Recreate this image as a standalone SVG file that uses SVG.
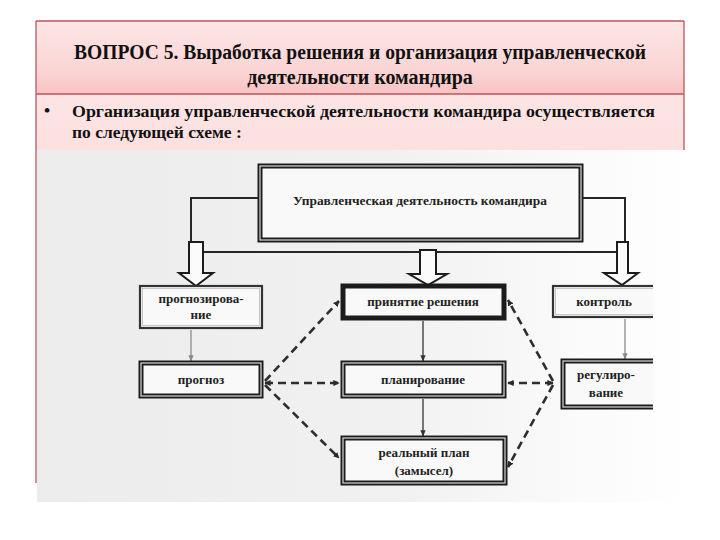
<svg xmlns="http://www.w3.org/2000/svg" width="720" height="540" viewBox="0 0 720 540">
  <defs>
    <linearGradient id="titleGrad" x1="0" y1="0" x2="0" y2="1">
      <stop offset="0" stop-color="#fde6e6"/>
      <stop offset="0.7" stop-color="#fbd4d4"/>
      <stop offset="1" stop-color="#f7c2c2"/>
    </linearGradient>
    <linearGradient id="bulletGrad" x1="0" y1="0" x2="0" y2="1">
      <stop offset="0" stop-color="#fde4e4"/>
      <stop offset="1" stop-color="#fde0e0"/>
    </linearGradient>
    <linearGradient id="scanGrad" x1="0" y1="0" x2="1" y2="0">
      <stop offset="0" stop-color="#ececec"/>
      <stop offset="0.55" stop-color="#f1f1f1"/>
      <stop offset="0.85" stop-color="#fbfbfb"/>
      <stop offset="1" stop-color="#ffffff"/>
    </linearGradient>
    <clipPath id="scanClip">
      <rect x="37" y="150" width="616" height="352"/>
    </clipPath>
    <marker id="tri" viewBox="0 0 10 10" refX="9" refY="5" markerWidth="2.4" markerHeight="2.4" orient="auto-start-reverse">
      <path d="M0,0 L10,5 L0,10 Z" fill="#2a2a2a"/>
    </marker>
    <marker id="thinDark" viewBox="0 0 10 10" refX="9" refY="5" markerWidth="5" markerHeight="5" orient="auto">
      <path d="M0,1 L10,5 L0,9 Z" fill="#333"/>
    </marker>
    <marker id="thinGray" viewBox="0 0 10 10" refX="9" refY="5" markerWidth="5" markerHeight="5" orient="auto">
      <path d="M0,1 L10,5 L0,9 Z" fill="#8a8a8a"/>
    </marker>
  </defs>
  <style>
    .frame { stroke: #b9575a; stroke-width: 1.3; }
    .title { font-family: "Liberation Serif", "Times New Roman", serif; font-weight: bold; font-size: 20px; fill: #111; }
    .bullet { font-family: "Liberation Serif", "Times New Roman", serif; font-weight: bold; font-size: 17.5px; fill: #111; }
    .lbl { font-family: "Liberation Serif", "Times New Roman", serif; font-weight: bold; font-size: 13px; fill: #222; text-anchor: middle; }
    .boxOuter { fill: #f9f9f9; stroke: #1c1c1c; stroke-width: 5; }
    .boxInner { fill: none; stroke: #d8d8d8; stroke-width: 1.2; }
    .boxThin { fill: #f9f9f9; stroke: #333; stroke-width: 2.2; }
    .boxThinInner { fill: none; stroke: #bbb; stroke-width: 0.8; }
    .block { fill: #fbfbfb; stroke: #1c1c1c; stroke-width: 2; stroke-linejoin: miter; }
    .link { fill: none; stroke: #262626; stroke-width: 2; }
    .dash { fill: none; stroke: #2e2e2e; stroke-width: 2.6; stroke-dasharray: 8 5; }
  </style>

  <rect width="720" height="540" fill="#ffffff"/>

  <!-- slide frame -->
  <g id="slide-header">
    <rect x="36" y="21" width="648" height="73" fill="url(#titleGrad)"/>
    <rect x="36" y="94" width="648" height="56" fill="url(#bulletGrad)"/>
    <line class="frame" x1="36" y1="21" x2="684" y2="21"/>
    <line class="frame" x1="36" y1="94" x2="684" y2="94"/>
    <line class="frame" x1="684" y1="21" x2="684" y2="150"/>
    <line class="frame" x1="36" y1="21" x2="36" y2="483"/>
    <text class="title" x="360" y="59" text-anchor="middle" textLength="572" lengthAdjust="spacingAndGlyphs">ВОПРОС 5. Выработка решения и организация управленческой</text>
    <text class="title" x="360" y="84" text-anchor="middle">деятельности командира</text>
    <text class="bullet" x="44" y="116">•</text>
    <text class="bullet" x="72" y="117" textLength="583" lengthAdjust="spacingAndGlyphs">Организация управленческой деятельности командира осуществляется</text>
    <text class="bullet" x="72" y="138">по следующей схеме :</text>
  </g>

  <!-- scanned scheme background -->
  <rect x="37" y="150" width="653" height="352" fill="url(#scanGrad)"/>

  <g clip-path="url(#scanClip)">
    <g id="connectors">
      <polyline class="link" points="258,198 191,198 191,242"/>
      <polyline class="link" points="583,198 625,198 625,242"/>
      <line class="link" x1="203" y1="252" x2="617" y2="252"/>
      <path class="block" d="M189,242 L203,242 L203,273 L213,273 L196,286 L179,273 L189,273 Z"/>
      <path class="block" d="M420,250 L436,250 L436,274 L447,274 L428,285 L409,274 L420,274 Z"/>
      <path class="block" d="M617,242 L628,242 L628,273 L638,273 L622,285 L604,273 L617,273 Z"/>
      <line x1="191" y1="330" x2="191" y2="361" stroke="#8a8a8a" stroke-width="1.3" marker-end="url(#thinGray)"/>
      <line x1="423" y1="321" x2="423" y2="361" stroke="#333" stroke-width="1.3" marker-end="url(#thinDark)"/>
      <line x1="423" y1="399" x2="423" y2="436" stroke="#333" stroke-width="1.3" marker-end="url(#thinDark)"/>
      <line x1="625" y1="319" x2="625" y2="359" stroke="#8a8a8a" stroke-width="1.3" marker-end="url(#thinGray)"/>
      <line class="dash" x1="265" y1="381" x2="339" y2="301" marker-end="url(#tri)"/>
      <line class="dash" x1="265" y1="383" x2="339" y2="383" marker-start="url(#tri)" marker-end="url(#tri)"/>
      <line class="dash" x1="265" y1="385" x2="339" y2="458" marker-end="url(#tri)"/>
      <line class="dash" x1="553" y1="381" x2="508" y2="300" marker-end="url(#tri)"/>
      <line class="dash" x1="553" y1="383" x2="508" y2="383" marker-start="url(#tri)" marker-end="url(#tri)"/>
      <line class="dash" x1="553" y1="385" x2="508" y2="467" marker-end="url(#tri)"/>
    </g>

    <g id="node-top">
      <rect class="boxOuter" x="260" y="166" width="321" height="74"/>
      <rect class="boxInner" x="260" y="166" width="321" height="74"/>
      <text class="lbl" x="420" y="205" textLength="254" lengthAdjust="spacingAndGlyphs">Управленческая деятельность командира</text>
    </g>

    <g id="node-prognozirovanie">
      <rect class="boxThin" x="140" y="286" width="122" height="42"/>
      <rect class="boxThinInner" x="142.5" y="288.5" width="117" height="37"/>
      <text class="lbl" x="201" y="303">прогнозирова-</text>
      <text class="lbl" x="201" y="319">ние</text>
    </g>

    <g id="node-prinyatie">
      <rect class="boxOuter" x="343" y="286" width="161" height="32" stroke-width="4"/>
      <text class="lbl" x="423" y="306">принятие решения</text>
    </g>

    <g id="node-kontrol">
      <rect class="boxThin" x="553" y="286" width="110" height="31"/>
      <rect class="boxThinInner" x="555.5" y="288.5" width="105" height="26"/>
      <text class="lbl" x="604" y="306">контроль</text>
    </g>

    <g id="node-prognoz">
      <rect class="boxOuter" x="141" y="363" width="120" height="33"/>
      <rect class="boxInner" x="141" y="363" width="120" height="33"/>
      <text class="lbl" x="201" y="384">прогноз</text>
    </g>

    <g id="node-planirovanie">
      <rect class="boxOuter" x="343" y="363" width="161" height="33"/>
      <rect class="boxInner" x="343" y="363" width="161" height="33"/>
      <text class="lbl" x="423" y="384">планирование</text>
    </g>

    <g id="node-regulirovanie">
      <rect class="boxOuter" x="563" y="361" width="105" height="46"/>
      <rect class="boxInner" x="563" y="361" width="105" height="46"/>
      <text class="lbl" x="606" y="379">регулиро-</text>
      <text class="lbl" x="606" y="397">вание</text>
    </g>

    <g id="node-realny-plan">
      <rect class="boxOuter" x="343" y="438" width="162" height="45"/>
      <rect class="boxInner" x="343" y="438" width="162" height="45"/>
      <text class="lbl" x="424" y="457">реальный план</text>
      <text class="lbl" x="424" y="475">(замысел)</text>
    </g>
  </g>
</svg>
